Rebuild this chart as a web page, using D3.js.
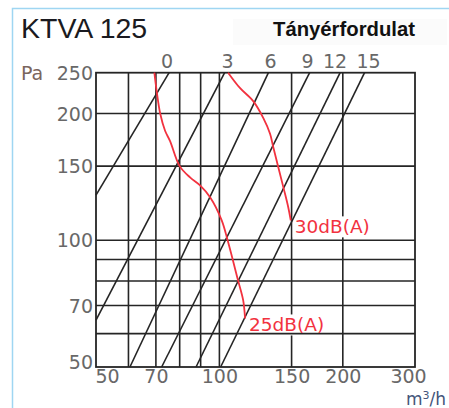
<!DOCTYPE html>
<html>
<head>
<meta charset="utf-8">
<script src="https://cdn.jsdelivr.net/npm/d3@7"></script>
<style>
  html,body{margin:0;padding:0;background:#fff;}
  svg{display:block;}
</style>
</head>
<body>
<svg id="chart" width="449" height="408"></svg>
<script>
// ---------- data ----------
const titleText = "KTVA 125";
const legendTitle = "Tányérfordulat";
const xTicks = [50, 70, 100, 150, 200, 300];
const xGrid = [60, 70, 80, 90, 100, 150, 200];
const yTicks = [50, 70, 100, 150, 200, 250];
const yGrid = [60, 70, 80, 90, 100, 150, 200];
const fanLabels = ["0", "3", "6", "9", "12", "15"];
const fanStart = [[50, 128], [50, 64.6], [60.5, 50], [72.3, 50], [87.7, 50], [100.7, 50]];
const fanEnd = [[75.4, 250], [103, 250], [131.7, 250], [166, 250], [197, 250], [226, 250]];
const noiseLabels = ["25dB(A)", "30dB(A)"];
const noise25 = [[69.4, 250], [70.3, 226], [71.7, 200], [73.7, 182], [75.8, 172], [80, 150],
                 [84.8, 141], [89.7, 135], [94.9, 126.5], [101.3, 111.5], [105, 99],
                 [111, 80.4], [114.3, 72], [115.5, 65.2]];
const noise30 = [[105, 250], [112.2, 230], [120.9, 214], [128, 195], [132.9, 179], [135.4, 166],
                 [143.2, 133.7], [147.2, 119.8], [149.3, 111.5]];
const noiseSeries = [noise25, noise30];

// ---------- layout ----------
const svg = d3.select("#chart");
const L = 96, R = 415, T = 72.7, B = 367;
const x = d3.scaleLog().domain([50, 300]).range([L, R]);
const y = d3.scaleLog().domain([50, 250]).range([B, T]);
const ink = "#252525";
const red = "#f2323f";
const grey = "#686868";
const tickFont = "'DejaVu Sans', Verdana, sans-serif";
const fanLabelShift = [-2, 3, 2, -2, -5, 4];

// outer light-blue frame
svg.append("path").attr("d", "M12.5,408 L12.5,8.5 L449,8.5")
  .attr("fill", "none").attr("stroke", "#9fd6f2").attr("stroke-width", 1.5);

// faint box behind legend title
svg.append("rect").attr("x", 233).attr("y", 19).attr("width", 214).attr("height", 26)
  .attr("fill", "#fbfbfb");

svg.append("text").attr("x", 21).attr("y", 38).text(titleText)
  .attr("font-family", "'Liberation Sans', Arial, sans-serif").attr("font-size", 28.5)
  .attr("fill", "#1a1a20");
svg.append("text").attr("x", 273).attr("y", 36).text(legendTitle)
  .attr("font-family", "'Liberation Sans', Arial, sans-serif").attr("font-size", 20.3)
  .attr("font-weight", "bold").attr("fill", "#111");

const gV = svg.append("g");     // vertical grid
const gBg = svg.append("g");    // label backgrounds
const gH = svg.append("g");     // horizontal grid + frame
const gD = svg.append("g");     // fan lines
const gC = svg.append("g");     // noise curves
const gT = svg.append("g");     // texts

gV.selectAll("line").data(xGrid).join("line")
  .attr("x1", d => x(d)).attr("x2", d => x(d)).attr("y1", T).attr("y2", B)
  .attr("stroke", ink).attr("stroke-width", 1.6);

gH.selectAll("line").data(yGrid).join("line")
  .attr("y1", d => y(d)).attr("y2", d => y(d)).attr("x1", L).attr("x2", R)
  .attr("stroke", ink).attr("stroke-width", 1.6);
gH.append("rect").attr("x", L).attr("y", T).attr("width", R - L).attr("height", B - T)
  .attr("fill", "none").attr("stroke", ink).attr("stroke-width", 1.8);

// axes (labels only)
const xAxis = d3.axisBottom(x).tickValues(xTicks).tickSize(0).tickPadding(2).tickFormat(d3.format("d"));
const gx = svg.append("g").attr("transform", `translate(0,${B})`).call(xAxis);
gx.select(".domain").remove();
gx.selectAll("text").attr("font-family", tickFont).attr("font-size", 19).attr("fill", grey)
  .attr("dy", "0.76em")
  .attr("text-anchor", (d, i) => i === 0 ? "start" : "middle")
  .attr("dx", (d, i) => i === xTicks.length - 1 ? -7 : (i === 0 ? -1 : 0));

const yAxis = d3.axisLeft(y).tickValues(yTicks).tickSize(0).tickPadding(3).tickFormat(d3.format("d"));
const gy = svg.append("g").attr("transform", `translate(${L},0)`).call(yAxis);
gy.select(".domain").remove();
gy.selectAll("text").attr("font-family", tickFont).attr("font-size", 19).attr("fill", grey)
  .attr("dy", (d, i) => i === 0 ? "0.1em" : "0.35em");

svg.append("text").attr("x", 21).attr("y", 80).text("Pa")
  .attr("font-family", tickFont).attr("font-size", 19).attr("fill", "#7a665e");
const unit = svg.append("text").attr("x", 406).attr("y", 405)
  .attr("font-family", tickFont).attr("font-size", 17).attr("fill", "#44557a");
unit.append("tspan").text("m");
unit.append("tspan").text("3").attr("font-size", 11).attr("dy", -6);
unit.append("tspan").text("/h").attr("dy", 6);

// fan-speed lines
gD.selectAll("line").data(fanStart).join("line")
  .attr("x1", d => x(d[0])).attr("y1", d => y(d[1]))
  .attr("x2", (d, i) => x(fanEnd[i][0])).attr("y2", (d, i) => y(fanEnd[i][1]))
  .attr("stroke", ink).attr("stroke-width", 1.6);

gT.selectAll("text.fan").data(fanLabels).join("text").attr("class", "fan")
  .attr("x", (d, i) => x(fanEnd[i][0]) + fanLabelShift[i]).attr("y", T - 5)
  .attr("text-anchor", "middle").text(d => d)
  .attr("font-family", tickFont).attr("font-size", 19).attr("fill", grey);

// noise curves
const line = d3.line().x(d => x(d[0])).y(d => y(d[1])).curve(d3.curveCatmullRom.alpha(0.5));
gC.selectAll("path").data(noiseSeries).join("path")
  .attr("d", line).attr("fill", "none").attr("stroke", red).attr("stroke-width", 1.8);

noiseSeries.forEach((s, i) => {
  const end = s[s.length - 1];
  const t = gT.append("text").attr("x", x(end[0]) + 4).attr("y", y(end[1]) + 13)
    .text(noiseLabels[i]).attr("font-family", tickFont).attr("font-size", 18.5).attr("fill", red);
  const bb = t.node().getBBox();
  gBg.append("rect").attr("x", bb.x - 2).attr("y", bb.y).attr("width", bb.width + 4).attr("height", bb.height)
    .attr("fill", "#fff");
});
</script>
</body>
</html>
